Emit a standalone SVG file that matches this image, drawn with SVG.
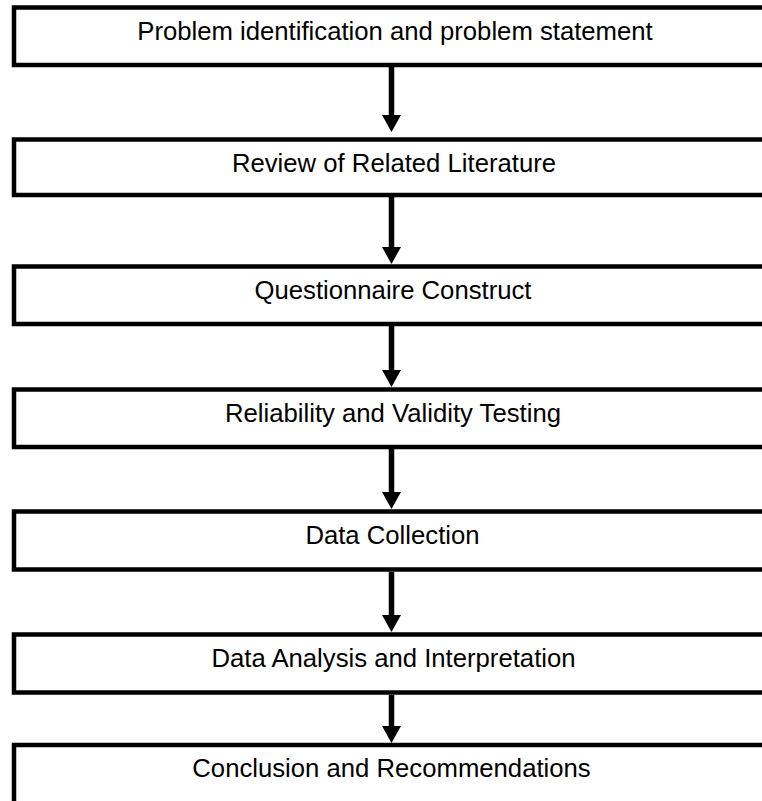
<svg xmlns="http://www.w3.org/2000/svg" width="762" height="801" viewBox="0 0 762 801">
<style>
.box{fill:#fff;stroke:#000;stroke-width:4.5}
.lbl{font-family:"Liberation Sans",Arial,sans-serif;font-size:25.7px;fill:#000;text-anchor:middle}
.conn{stroke:#000;stroke-width:5.5;fill:none;marker-end:url(#ah)}
</style>
<defs>
<marker id="ah" markerUnits="userSpaceOnUse" viewBox="0 0 17 19" refX="0" refY="9.5" markerWidth="17" markerHeight="19" orient="auto">
<path d="M0,0 L17,9.5 L0,19 z" fill="#000"/>
</marker>
</defs>
<rect width="762" height="801" fill="#fff"/>
<g id="connectors">
<line class="conn" x1="391.5" y1="67" x2="391.5" y2="115"/>
<line class="conn" x1="391.5" y1="197" x2="391.5" y2="247"/>
<line class="conn" x1="391.5" y1="326" x2="391.5" y2="370"/>
<line class="conn" x1="391.5" y1="449" x2="391.5" y2="492"/>
<line class="conn" x1="391.5" y1="572" x2="391.5" y2="615"/>
<line class="conn" x1="391.5" y1="695" x2="391.5" y2="726"/>
</g>
<g id="n1"><rect class="box" x="14" y="7.5" width="800" height="57.5"/><text class="lbl" x="395" y="40">Problem identification and problem statement</text></g>
<g id="n2"><rect class="box" x="14" y="139.5" width="800" height="55.5"/><text class="lbl" x="394" y="172">Review of Related Literature</text></g>
<g id="n3"><rect class="box" x="14" y="266.5" width="800" height="57.5"/><text class="lbl" x="393" y="299">Questionnaire  Construct</text></g>
<g id="n4"><rect class="box" x="14" y="389.5" width="800" height="57.5"/><text class="lbl" x="393" y="422">Reliability and Validity Testing</text></g>
<g id="n5"><rect class="box" x="14" y="511.5" width="800" height="58"/><text class="lbl" x="392.5" y="544">Data Collection</text></g>
<g id="n6"><rect class="box" x="14" y="634.5" width="800" height="58"/><text class="lbl" x="393.5" y="667">Data Analysis and Interpretation</text></g>
<g id="n7"><rect class="box" x="14" y="745" width="800" height="70"/><text class="lbl" x="391.5" y="777">Conclusion and Recommendations</text></g>
</svg>
